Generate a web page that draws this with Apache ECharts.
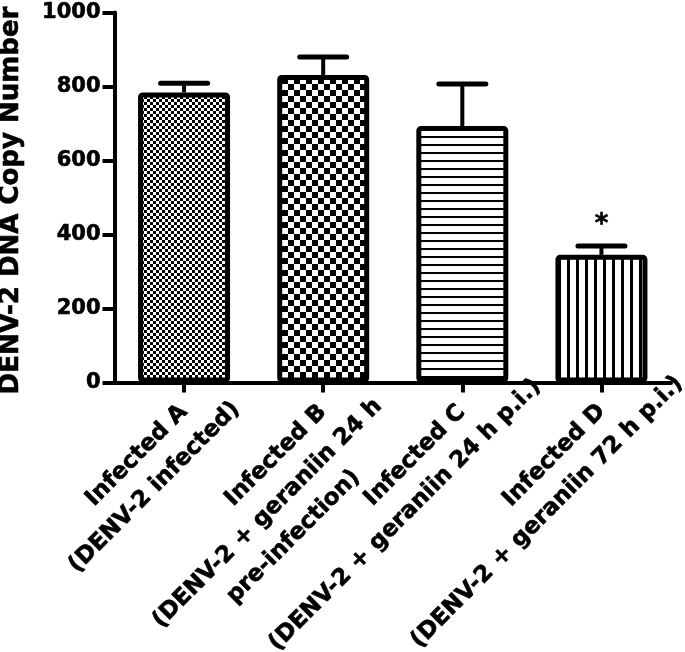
<!DOCTYPE html>
<html>
<head>
<meta charset="utf-8">
<script src="https://cdn.jsdelivr.net/npm/echarts@6/dist/echarts.min.js"></script>
<style>
html,body{margin:0;padding:0;background:#fff;}
#chart{width:685px;height:652px;}
</style>
</head>
<body>
<div id="chart"></div>
<script>
// ---- data ----
const categories = [
  'Infected A\n(DENV-2 infected)',
  'Infected B\n(DENV-2 + geraniin 24 h\npre-infection)',
  'Infected C\n(DENV-2 + geraniin 24 h p.i.)',
  'Infected D\n(DENV-2 + geraniin 72 h p.i.)'
];
const meanValues = [784, 831, 693, 345];
const errorTops = [809, 880, 807, 369];
const significance = ['', '', '', '*'];
const yMin = 0;
const yMax = 1000;
const yInterval = 200;
const yAxisTitle = 'DENV-2 DNA Copy Number';

// ---- styles ----
const FONT = 'DejaVu Sans';
const LABEL_SIZE = 23;
const LABEL_LH = 35;
const LABEL_MARGIN = 1;
const BLOCK_W = 1000;
const TEXT_STROKE = 0.6;
// centre of each label line along the rotated text direction, relative to the tick (px)
const lineCenterOffsets = [
  [-85, -95],
  [-85, -132, -130],
  [-85, -134],
  [-85, -130]
];

function measure(text, size) {
  const ctx = document.createElement('canvas').getContext('2d');
  ctx.font = 'bold ' + size + 'px "' + FONT + '"';
  return ctx.measureText(text).width;
}

function makePattern(kind) {
  const c = document.createElement('canvas');
  let ctx;
  if (kind === 'fineCheck') {
    c.width = 6; c.height = 6; ctx = c.getContext('2d');
    ctx.fillStyle = '#fff'; ctx.fillRect(0, 0, 6, 6);
    ctx.fillStyle = '#000'; ctx.fillRect(0, 0, 3, 3); ctx.fillRect(3, 3, 3, 3);
  } else if (kind === 'coarseCheck') {
    c.width = 12; c.height = 12; ctx = c.getContext('2d');
    ctx.fillStyle = '#fff'; ctx.fillRect(0, 0, 12, 12);
    ctx.fillStyle = '#000'; ctx.fillRect(0, 0, 6, 6); ctx.fillRect(6, 6, 6, 6);
  } else if (kind === 'hLines') {
    c.width = 8; c.height = 8; ctx = c.getContext('2d');
    ctx.fillStyle = '#fff'; ctx.fillRect(0, 0, 8, 8);
    ctx.fillStyle = '#000'; ctx.fillRect(0, 0, 8, 2);
  } else {
    c.width = 9; c.height = 9; ctx = c.getContext('2d');
    ctx.fillStyle = '#fff'; ctx.fillRect(0, 0, 9, 9);
    ctx.fillStyle = '#000'; ctx.fillRect(0, 0, 3, 9);
  }
  return { image: c, repeat: 'repeat' };
}
const patterns = [makePattern('fineCheck'), makePattern('coarseCheck'), makePattern('hLines'), makePattern('vLines')];

// rich text styles: every label line is [left spacer][text][right spacer], total width BLOCK_W,
// block centred on the label anchor, so each line's centre can be placed exactly.
const rich = {};
const labelStrings = [];
function tokenStyle(w) {
  return {
    width: w, align: 'left', fontSize: LABEL_SIZE, fontWeight: 'bold',
    fontFamily: FONT, lineHeight: LABEL_LH, color: '#000',
    textBorderColor: '#000', textBorderWidth: TEXT_STROKE
  };
}
categories.forEach(function (cat, i) {
  const lines = cat.split('\n');
  const parts = lines.map(function (line, j) {
    const L = measure(line, LABEL_SIZE);
    const c = lineCenterOffsets[i][j];
    const p = BLOCK_W / 2 + c + LABEL_MARGIN / Math.SQRT2 - L / 2;
    const q = BLOCK_W - p - L;
    const base = 'k' + i + '_' + j;
    rich[base + 'l'] = tokenStyle(p);
    rich[base + 't'] = tokenStyle(L);
    rich[base + 'r'] = tokenStyle(q);
    return '{' + base + 'l| }{' + base + 't|' + line + '}{' + base + 'r| }';
  });
  labelStrings.push(parts.join('\n'));
});

const chart = echarts.init(document.getElementById('chart'), null, { renderer: 'canvas' });
chart.setOption({
  animation: false,
  backgroundColor: '#fff',
  grid: { left: 114.5, right: 14, top: 12.5, bottom: 269.5, outerBoundsMode: 'none', containLabel: false },
  xAxis: {
    type: 'category',
    data: categories,
    axisLine: { show: true, lineStyle: { color: '#000', width: 4 } },
    axisTick: { show: true, alignWithLabel: true, length: 10, lineStyle: { color: '#000', width: 4 } },
    axisLabel: {
      interval: 0,
      showMinLabel: true,
      showMaxLabel: true,
      rotate: 45,
      align: 'center',
      verticalAlign: 'top',
      margin: LABEL_MARGIN,
      color: '#000',
      fontFamily: FONT,
      fontWeight: 'bold',
      fontSize: LABEL_SIZE,
      lineHeight: LABEL_LH,
      formatter: function (value, index) { return labelStrings[index]; },
      rich: rich
    },
    splitLine: { show: false }
  },
  yAxis: {
    type: 'value',
    min: yMin,
    max: yMax,
    interval: yInterval,
    name: yAxisTitle,
    nameLocation: 'middle',
    nameGap: 90,
    nameTextStyle: {
      color: '#000', fontFamily: FONT, fontWeight: 'bold', fontSize: 26,
      textBorderColor: '#000', textBorderWidth: TEXT_STROKE, padding: [0, 6, 0, 0]
    },
    axisLine: { show: true, lineStyle: { color: '#000', width: 4 } },
    axisTick: { show: true, length: 12, lineStyle: { color: '#000', width: 4 } },
    axisLabel: {
      color: '#000', fontFamily: FONT, fontWeight: 'bold', fontSize: 21, margin: 14,
      textBorderColor: '#000', textBorderWidth: TEXT_STROKE,
      formatter: function (v) { return String(v); }
    },
    splitLine: { show: false }
  },
  series: [
    {
      type: 'bar',
      barWidth: 92,
      z: 2,
      data: meanValues.map(function (v, i) {
        return { value: v, itemStyle: { color: patterns[i] } };
      }),
      itemStyle: { borderColor: '#000', borderWidth: 5, borderRadius: 2 }
    },
    {
      type: 'custom',
      z: 3,
      encode: { x: 0, y: [1, 2] },
      data: meanValues.map(function (v, i) { return [i, v, errorTops[i]]; }),
      renderItem: function (params, api) {
        const idx = params.dataIndex;
        const base = api.coord([api.value(0), api.value(1)]);
        const top = api.coord([api.value(0), api.value(2)]);
        const capHalf = 23.5;
        const children = [
          { type: 'line', shape: { x1: base[0], y1: base[1], x2: top[0], y2: top[1] },
            style: { stroke: '#000', lineWidth: 4 } },
          { type: 'line', shape: { x1: top[0] - capHalf, y1: top[1], x2: top[0] + capHalf, y2: top[1] },
            style: { stroke: '#000', lineWidth: 5, lineCap: 'round' } }
        ];
        if (significance[idx]) {
          children.push({ type: 'text', x: top[0], y: top[1] - 21,
            style: { text: significance[idx], fill: '#000', font: 'bold 26px "' + FONT + '"',
                     align: 'center', verticalAlign: 'middle',
                     stroke: '#000', lineWidth: TEXT_STROKE } });
        }
        return { type: 'group', children: children };
      }
    }
  ]
});
</script>
</body>
</html>
